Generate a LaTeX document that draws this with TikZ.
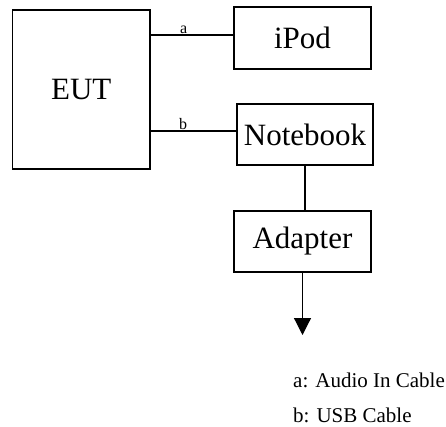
\documentclass[tikz,border=0pt]{standalone}
\usepackage{fontspec}
\setmainfont{Liberation Serif}
\usetikzlibrary{positioning,arrows.meta}

\begin{document}
\begin{tikzpicture}[
    x=1pt, y=-1pt,
    box/.style={rectangle, draw=black, line width=1.2pt, inner sep=0pt, font=\fontsize{31}{36}\selectfont},
    cable/.style={black, line width=1.2pt},
    arrow/.style={-{Triangle[width=17pt,length=17pt]}, black, line width=1.2pt},
    tag/.style={font=\fontsize{16}{18}\selectfont, inner sep=1pt},
    legend/.style={anchor=west, inner sep=0pt, font=\fontsize{21}{24}\selectfont}
]
\useasboundingbox (0,0) rectangle (446,427);

\node[box, minimum width=137.5pt, minimum height=159pt] (eut) at (81.25,89.5) {EUT};
\node[box, minimum width=137pt, minimum height=62pt] (ipod) at (302.5,38) {iPod};
\node[box, minimum width=136pt, minimum height=61pt] (notebook) at (305,134.5) {Notebook};
\node[box, minimum width=137pt, minimum height=61pt] (adapter) at (302.5,241.5) {Adapter};
\coordinate (out) at (302.5,335);

\draw[cable] (ipod.west) ++(0,-3) coordinate (ipodin) -- (ipodin -| eut.east)
    node[tag, pos=0.6, above] {a};
\draw[cable] (notebook.west) ++(0,-3.5) coordinate (nbin) -- (nbin -| eut.east)
    node[tag, pos=0.62, above] {b};
\draw[cable] (notebook.south) -- (notebook.south |- adapter.north);
\draw[arrow] (adapter.south) -- (out);

\node[legend] (leg1) at (293,380) {a: Audio In Cable};
\node[legend] (leg2) at (293,415) {b: USB Cable};

\end{tikzpicture}
\end{document}
